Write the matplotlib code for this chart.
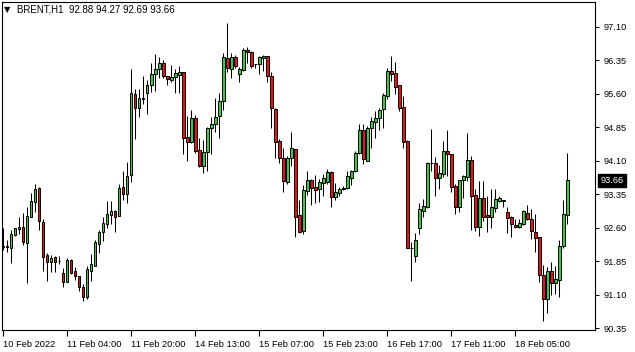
import matplotlib
matplotlib.use("Agg")
import matplotlib.pyplot as plt
import numpy as np

opens = [92.17, 92.18, 92.15, 92.44, 92.56, 92.62, 92.26, 92.85, 93.18, 93.48,
         92.72, 91.99, 91.84, 91.94, 91.85, 91.58, 91.39, 91.88, 91.63, 91.52,
         91.27, 91.04, 91.64, 91.75, 92.24, 92.50, 92.68, 92.89, 92.97, 92.87,
         93.51, 93.36, 93.78, 95.60, 95.29, 95.49, 95.61, 95.81, 96.05, 96.15,
         96.29, 96.01, 95.92, 95.97, 96.03, 96.08, 94.63, 94.53, 95.05, 94.34,
         93.99, 94.29, 94.84, 94.93, 95.11, 95.43, 96.40, 96.15, 96.42, 96.05,
         96.14, 96.58, 96.55, 96.26, 96.26, 96.40, 96.46, 95.99, 95.25, 94.54,
         94.16, 93.62, 94.16, 94.36, 92.88, 92.53, 93.43, 93.68, 93.51, 93.46,
         93.61, 93.63, 93.84, 93.28, 93.37, 93.46, 93.50, 93.72, 93.86, 94.28,
         94.80, 94.10, 94.83, 94.96, 95.07, 95.25, 95.56, 96.12, 96.06, 95.79,
         95.30, 94.54, 92.15, 91.97, 92.59, 92.98, 93.07, 94.04, 94.04, 93.71,
         93.80, 94.33, 94.25, 93.53, 93.06, 93.68, 93.74, 94.11, 93.33, 92.62,
         93.26, 92.88, 92.83, 93.05, 93.20, 93.20, 92.96, 92.83, 92.66, 92.61,
         92.68, 92.94, 92.79, 92.50, 92.38, 91.53, 91.00, 91.64, 91.35, 91.43,
         92.19, 92.88]
highs = [92.59, 92.32, 92.55, 92.59, 92.83, 92.94, 93.07, 93.37, 93.57, 93.52,
         92.80, 92.03, 91.99, 91.97, 91.96, 91.69, 91.93, 91.89, 91.71, 91.52,
         91.33, 91.75, 92.00, 92.32, 92.55, 92.85, 93.20, 93.20, 93.00, 93.57,
         93.86, 94.08, 96.16, 95.71, 95.71, 96.00, 95.91, 96.29, 96.49, 96.42,
         96.35, 96.01, 96.25, 96.15, 96.23, 96.08, 95.10, 95.24, 95.13, 94.60,
         94.56, 94.85, 95.08, 95.50, 95.62, 96.51, 97.18, 96.51, 96.47, 96.20,
         96.63, 96.64, 96.56, 96.26, 96.46, 96.47, 96.46, 96.08, 95.28, 94.59,
         94.38, 94.20, 94.75, 94.37, 93.22, 93.56, 93.87, 93.69, 93.78, 93.69,
         93.80, 93.92, 93.86, 93.61, 93.52, 93.53, 93.87, 93.90, 94.33, 94.93,
         94.93, 94.88, 95.08, 95.21, 95.28, 95.61, 96.17, 96.45, 96.31, 95.80,
         95.55, 94.56, 92.29, 92.47, 93.15, 93.24, 94.07, 94.81, 94.18, 94.01,
         94.54, 94.79, 94.26, 93.59, 93.68, 93.78, 94.73, 94.21, 93.47, 93.65,
         93.65, 93.31, 93.47, 93.47, 93.31, 93.22, 93.07, 92.87, 92.80, 92.80,
         93.00, 93.11, 93.02, 92.91, 92.39, 91.76, 91.71, 91.82, 91.74, 92.32,
         93.22, 94.27]
lows = [92.10, 92.06, 91.80, 92.42, 92.46, 92.21, 91.35, 92.83, 92.96, 92.55,
        91.63, 91.41, 91.60, 91.60, 91.78, 91.26, 91.38, 91.56, 91.43, 91.18,
        90.96, 91.00, 91.41, 91.74, 92.04, 92.30, 92.59, 92.68, 92.51, 92.86,
        93.22, 93.16, 93.63, 94.59, 95.09, 95.37, 95.14, 95.64, 95.67, 95.95,
        95.95, 95.80, 95.87, 95.63, 95.61, 94.26, 94.10, 94.49, 94.28, 93.95,
        93.83, 93.87, 94.25, 94.75, 94.62, 95.24, 96.08, 95.96, 96.17, 95.87,
        96.11, 96.29, 96.17, 96.17, 96.05, 96.11, 95.87, 94.84, 94.17, 94.04,
        93.41, 93.57, 93.98, 92.40, 92.47, 92.46, 93.33, 93.11, 93.16, 93.18,
        93.31, 93.57, 93.07, 93.22, 93.30, 93.44, 93.47, 93.56, 93.84, 94.25,
        94.03, 94.09, 94.39, 94.62, 94.78, 94.84, 95.49, 95.89, 95.60, 95.22,
        94.39, 92.14, 91.41, 91.84, 92.45, 92.85, 93.05, 93.88, 93.32, 93.46,
        93.73, 93.75, 93.41, 92.90, 92.96, 93.27, 93.65, 92.55, 92.53, 92.42,
        92.76, 92.51, 92.60, 92.96, 93.17, 93.07, 92.47, 92.38, 92.59, 92.59,
        92.66, 92.77, 92.34, 92.06, 91.39, 90.51, 90.68, 91.09, 91.11, 91.05,
        92.15, 92.69]
closes = [92.18, 92.17, 92.45, 92.59, 92.62, 92.29, 92.86, 93.20, 93.47, 92.74,
          91.95, 91.84, 91.93, 91.82, 91.86, 91.39, 91.88, 91.59, 91.52, 91.26,
          91.05, 91.67, 91.79, 92.27, 92.50, 92.70, 92.90, 92.97, 92.85, 93.48,
          93.36, 93.77, 95.61, 95.29, 95.50, 95.50, 95.81, 96.04, 96.15, 96.29,
          95.99, 95.93, 95.97, 96.06, 96.10, 94.62, 94.53, 95.05, 94.33, 93.99,
          94.29, 94.83, 94.92, 95.09, 95.43, 96.42, 96.17, 96.43, 96.23, 96.15,
          96.58, 96.55, 96.23, 96.26, 96.42, 96.45, 95.99, 95.28, 94.53, 94.17,
          93.65, 94.16, 94.38, 92.85, 92.51, 93.44, 93.68, 93.50, 93.45, 93.62,
          93.71, 93.84, 93.28, 93.39, 93.47, 93.49, 93.75, 93.86, 94.28, 94.80,
          94.13, 94.83, 94.99, 95.05, 95.24, 95.58, 96.11, 96.05, 95.76, 95.29,
          94.51, 92.15, 92.14, 92.32, 93.02, 93.08, 94.04, 94.05, 93.72, 93.82,
          94.33, 94.25, 93.52, 93.07, 93.66, 93.77, 94.11, 93.32, 92.62, 93.26,
          92.85, 92.83, 93.06, 93.24, 93.26, 93.20, 92.81, 92.68, 92.61, 92.70,
          92.97, 92.80, 92.52, 92.36, 91.55, 91.01, 91.64, 91.37, 91.44, 92.19,
          92.90, 93.66]

x_tick_labels = ["10 Feb 2022", "11 Feb 04:00", "11 Feb 20:00", "14 Feb 13:00",
                 "15 Feb 07:00", "15 Feb 23:00", "16 Feb 17:00", "17 Feb 11:00",
                 "18 Feb 05:00"]
y_ticks = [90.35, 91.10, 91.85, 92.60, 93.35, 94.10, 94.85, 95.60, 96.35, 97.10]
symbol = "BRENT,H1"

W, H = 635, 352
fig = plt.figure(figsize=(W / 100, H / 100), dpi=100)
fig.patch.set_facecolor("white")
ax = fig.add_axes([2 / W, (H - 330) / H, 593 / W, 328 / H])
ax.set_facecolor("white")

o = np.array(opens); h = np.array(highs); l = np.array(lows); c = np.array(closes)
n = len(o)
x = np.arange(n)
up = c >= o

ax.vlines(x, l, h, color="black", linewidth=0.75, zorder=1)
bottoms = np.minimum(o, c)
heights = np.maximum(np.abs(c - o), 0.012)
colors = np.where(up, "#3ccb3c", "#ee1010")
ax.bar(x, heights, bottom=bottoms, width=0.58, color=colors,
       edgecolor="black", linewidth=0.7, zorder=2)

ax.set_xlim(-0.33, 147.9)
ax.set_ylim(90.306, 97.66)

for s in ax.spines.values():
    s.set_color("black")
    s.set_linewidth(0.8)

ax.set_xticks(np.arange(len(x_tick_labels)) * 16)
ax.set_xticklabels(x_tick_labels, fontsize=6.7, family="Liberation Sans", ha="left")
ax.tick_params(axis="x", direction="out", length=4, width=0.8, pad=3.5, colors="black")

ax.yaxis.tick_right()
ax.set_yticks(y_ticks)
ax.set_yticklabels([f"{v:.2f}" for v in y_ticks], fontsize=6.7, family="Liberation Sans")
ax.tick_params(axis="y", direction="out", length=3, width=0.8, pad=3, colors="black")

# last price box
last = closes[-1]
ax.annotate(f"{last:.2f}", xy=(1.0, last), xycoords=("axes fraction", "data"),
            xytext=(4, 0), textcoords="offset points", ha="left", va="center",
            fontsize=6.7, family="Liberation Sans", color="white",
            bbox=dict(boxstyle="square,pad=0.25", fc="black", ec="black"))

# header
fig.text(4 / W, 1 - 10 / H, "▼", fontsize=6, va="center", ha="left", color="black")
fig.text(17 / W, 1 - 10 / H,
         f"{symbol}  {opens[-1]:.2f} {highs[-1]:.2f} {lows[-1]:.2f} {closes[-1]:.2f}",
         fontsize=7, family="Liberation Sans", va="center", ha="left", color="black")

fig.savefig("out.png", dpi=100, facecolor="white")
